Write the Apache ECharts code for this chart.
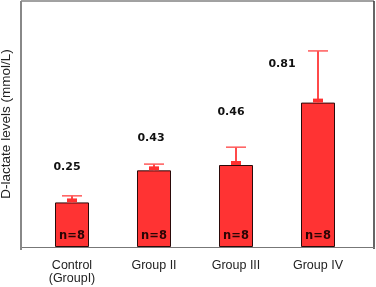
<!DOCTYPE html>
<html>
<head>
<meta charset="utf-8">
<script src="https://cdn.jsdelivr.net/npm/echarts@6/dist/echarts.min.js"></script>
<style>html,body{margin:0;padding:0;background:#fff}#c{width:376px;height:287px}</style>
</head>
<body>
<div id="c"></div>
<script>
const categories = ['Control\n(GroupI)', 'Group II', 'Group III', 'Group IV'];
const values = [0.25, 0.43, 0.46, 0.81];
const errors = [0.037, 0.035, 0.10, 0.29];
const valueLabels = ['0.25', '0.43', '0.46', '0.81'];
const nLabels = ['n=8', 'n=8', 'n=8', 'n=8'];

// layout (label offsets in px, not data)
const labelOffsets = [[-5, -30], [-3, -27], [-5, -47], [-36, -33]];

const chart = echarts.init(document.getElementById('c'), null, {renderer: 'canvas'});

const barData = values.map((v, i) => ({
  value: v,
  label: {
    show: true, position: 'top', distance: 0,
    offset: labelOffsets[i],
    formatter: valueLabels[i],
    fontFamily: 'DejaVu Sans', fontWeight: 'bold', fontSize: 11, color: '#111'
  }
}));

chart.setOption({
  animation: false,
  grid: {left: 31, right: 17, top: 1, bottom: 40, containLabel: false, outerBoundsMode: 'none'},
  xAxis: {
    type: 'category', data: categories, boundaryGap: true,
    axisLine: {show: false}, axisTick: {show: false},
    axisLabel: {margin: 12, fontFamily: 'Liberation Sans', fontSize: 12.5, lineHeight: 13, color: '#222'}
  },
  yAxis: {
    type: 'value', min: 0, max: 1.38, offset: 10,
    name: 'D-lactate levels (mmol/L)', nameLocation: 'middle', nameGap: 8, nameRotate: 90,
    nameTextStyle: {fontFamily: 'Liberation Sans', fontSize: 13.5, color: '#222'},
    axisLine: {show: false}, axisTick: {show: false}, axisLabel: {show: false}, splitLine: {show: false}
  },
  graphic: [
    {type: 'line', shape: {x1: 21, y1: 1, x2: 374, y2: 1}, style: {stroke: '#444', lineWidth: 1}, z: 10},
    {type: 'line', shape: {x1: 374, y1: 1, x2: 374, y2: 249}, style: {stroke: '#333', lineWidth: 1.5}, z: 10},
    {type: 'line', shape: {x1: 20, y1: 247.5, x2: 375, y2: 247.5}, style: {stroke: '#777', lineWidth: 1}, z: 10},
    {type: 'line', shape: {x1: 21, y1: 1, x2: 21, y2: 250}, style: {stroke: '#888', lineWidth: 2}, z: 10}
  ],
  series: [
    {
      type: 'bar', data: barData, barWidth: 34,
      itemStyle: {color: '#ff3333', borderColor: '#2a0a0a', borderWidth: 1},
      z: 2
    },
    {
      type: 'bar', data: values.map(v => v), barWidth: 34, barGap: '-100%',
      itemStyle: {color: 'rgba(0,0,0,0)'},
      label: {
        show: true, position: 'insideBottom', distance: 5,
        formatter: p => nLabels[p.dataIndex],
        fontFamily: 'DejaVu Sans', fontWeight: 'bold', fontSize: 11.5, color: '#2a0505'
      },
      z: 5, silent: true
    },
    {
      type: 'custom',
      data: values.map((v, i) => [i, v, v + errors[i]]),
      renderItem: function (params, api) {
        const i = api.value(0);
        const lo = api.coord([i, api.value(1)]);
        const hi = api.coord([i, api.value(2)]);
        const cx = lo[0];
        return {
          type: 'group',
          children: [
            {type: 'line', shape: {x1: cx, y1: lo[1], x2: cx, y2: hi[1]}, style: {stroke: '#ff4a4a', lineWidth: 2}},
            {type: 'line', shape: {x1: cx - 10, y1: hi[1], x2: cx + 10, y2: hi[1]}, style: {stroke: '#ff5a5a', lineWidth: 1.5}},
            {type: 'rect', shape: {x: cx - 5, y: lo[1] - 4, width: 10, height: 4}, style: {fill: '#ff3030'}}
          ]
        };
      },
      z: 3
    }
  ]
});
</script>
</body>
</html>
